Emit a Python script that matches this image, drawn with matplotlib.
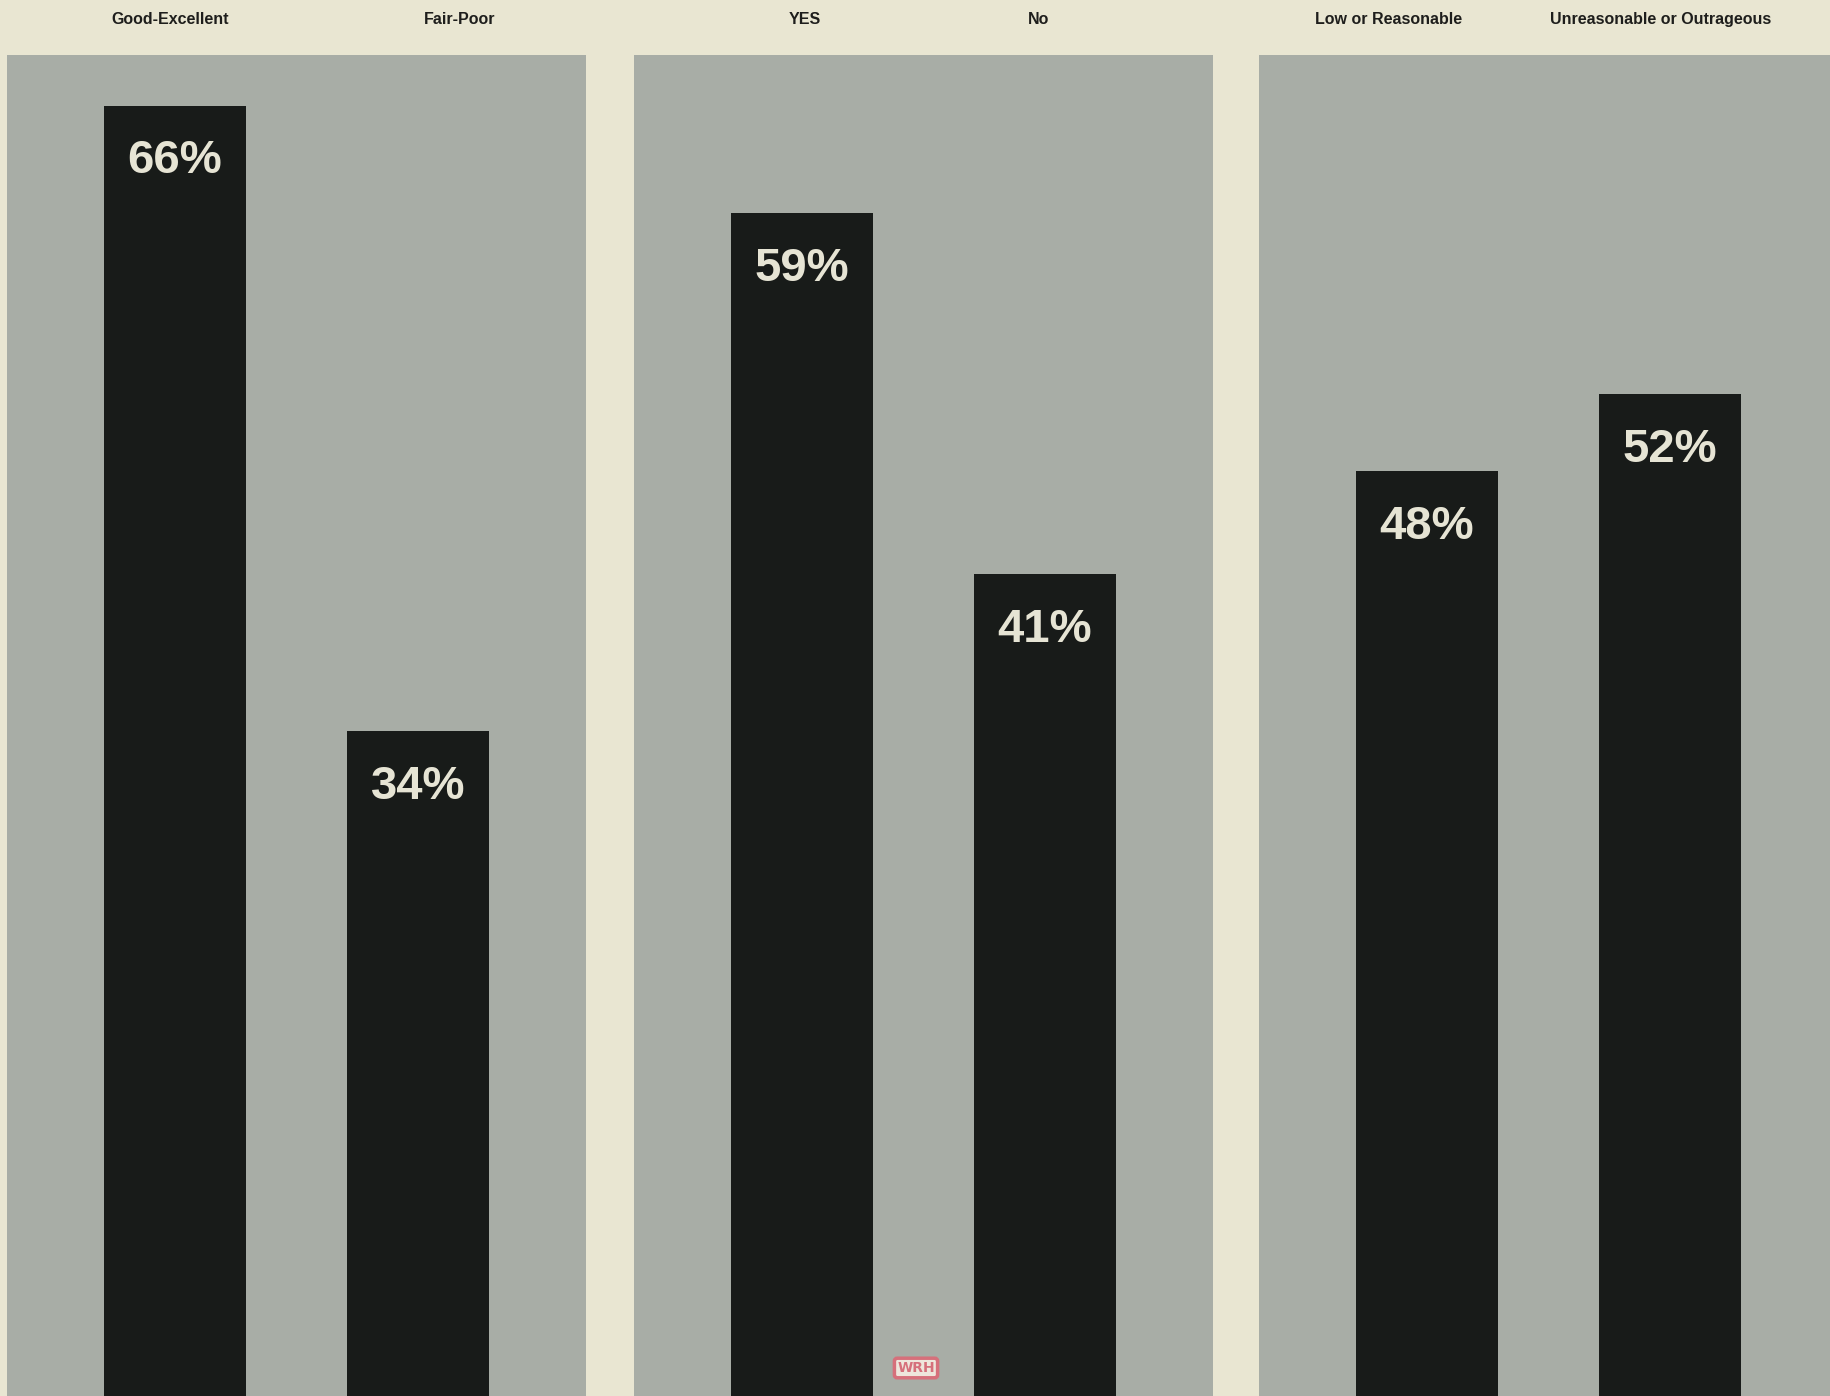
import matplotlib
matplotlib.use("Agg")
import matplotlib.pyplot as plt
from matplotlib.transforms import blended_transform_factory

# survey answers, three questions with two answers each
labels_q1 = ['Good-Excellent', 'Fair-Poor']
values_q1 = [66, 34]
labels_q2 = ['YES', 'No']
values_q2 = [59, 41]
labels_q3 = ['Low or Reasonable', 'Unreasonable or Outrageous']
values_q3 = [48, 52]

CREAM = '#e9e6d2'
PANEL = '#a8ada6'
BAR = '#181b19'
TEXT_LIGHT = '#e6e4d4'
TEXT_DARK = '#1e1e1c'
STAMP = '#d6707b'

W, H = 1830, 1396
fig = plt.figure(figsize=(W / 100, H / 100), dpi=100)
fig.patch.set_facecolor(CREAM)

panels = [
    # (left px, labels, values, top of y range, header x offsets in bar units)
    (7, labels_q1, values_q1, 68.6, [-0.02, 1.17]),
    (634, labels_q2, values_q2, 66.9, [0.01, 0.975]),
    (1259, labels_q3, values_q3, 69.6, [-0.156, 0.963]),
]

panel_w = 579
panel_top = 55

for left, labels, values, ymax, head_x in panels:
    ax = fig.add_axes([left / W, 0, panel_w / W, (H - panel_top) / H])
    ax.set_facecolor(PANEL)
    x = list(range(len(values)))
    ax.bar(x, values, width=0.584, color=BAR, edgecolor='none')
    ax.set_xlim(-0.691, 1.691)
    ax.set_ylim(0, ymax)
    for s in ax.spines.values():
        s.set_visible(False)
    ax.set_xticks([])
    ax.set_yticks([])

    for xi, v in zip(x, values):
        ax.annotate(f'{v}%', xy=(xi, v), xytext=(0, -40), textcoords='offset points',
                    ha='center', va='center', fontsize=34, fontweight='bold',
                    color=TEXT_LIGHT, family=['Liberation Sans', 'DejaVu Sans'])

    tr = blended_transform_factory(ax.transData, fig.transFigure)
    for hx, lab in zip(head_x, labels):
        ax.text(hx, 1 - 24 / H, lab, transform=tr, ha='center', va='baseline',
                fontsize=11.5, fontweight='bold', color=TEXT_DARK,
                family=['Liberation Sans Narrow', 'Liberation Sans', 'DejaVu Sans'],
                clip_on=False)

# small printer's stamp at the bottom centre
fig.text(916 / W, 1 - 1368 / H, 'WRH', ha='center', va='center', fontsize=10,
         fontweight='bold', color=STAMP,
         bbox=dict(boxstyle='round,pad=0.2', facecolor='#eee6dc', edgecolor=STAMP,
                   linewidth=2.5))

fig.savefig('out.png', dpi=100, facecolor=CREAM)
